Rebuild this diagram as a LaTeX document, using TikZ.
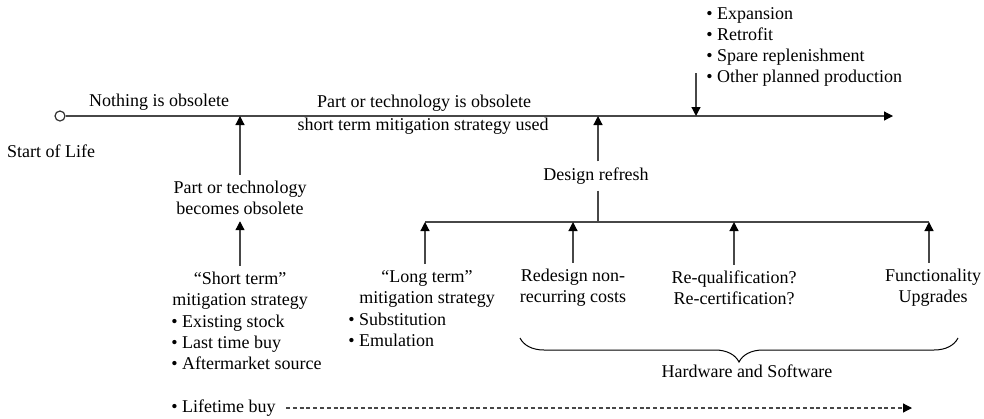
\documentclass[tikz,border=0pt]{standalone}
\usepackage{fontspec}
\setmainfont{Liberation Serif}
\usepackage{tikz}
\usetikzlibrary{arrows.meta, positioning, calc, decorations.pathreplacing}

\begin{document}
\begin{tikzpicture}[x=0.5pt, y=-0.5pt,
    lbl/.style={font=\fontsize{9}{10.5}\selectfont, inner sep=3pt, align=center},
    blist/.style={lbl, align=left, anchor=west, inner sep=0pt},
    link/.style={draw=black!72, line width=0.6pt},
    uparrow/.style={link, -{Triangle[length=4.5pt, width=4.5pt, color=black]}}]
  \useasboundingbox (0,0) rectangle (984,418);

  % Timeline
  \node[draw=black!80, circle, fill=white, minimum size=5pt, inner sep=0pt, line width=0.6pt] (start) at (60,116) {};
  \coordinate (tlEnd) at (893,116);
  \draw[uparrow] (start) -- (tlEnd);
  \node[lbl] (startLbl) at (51,151) {Start of Life};
  \node[lbl] (nothing) at (159,102) {Nothing is obsolete};
  \node[lbl] (isObs) at (424,103) {Part or technology is obsolete};
  \node[lbl] (stUsed) at (423,126) {short term mitigation strategy used};

  % Part becomes obsolete
  \coordinate (obsAt) at (240,116);
  \node[lbl] (becomes) at (240,198) {Part or technology\\becomes obsolete};
  \draw[uparrow] (becomes.north) -- (obsAt);
  \node[lbl] (shortHead) at (240,291) {``Short term''\\mitigation strategy};
  \draw[uparrow] (shortHead.north) -- (becomes.south);
  \node[blist] (shortList) at (171,342) {\textbullet{} Existing stock\\\textbullet{} Last time buy\\\textbullet{} Aftermarket source};

  % Lifetime buy
  \node[blist] (lifetime) at (171,408) {\textbullet{} Lifetime buy};
  \coordinate (lifeEnd) at (912,408);
  \draw[link, dash pattern=on 2pt off 1.4pt, -{Triangle[length=4.5pt, width=4.5pt, color=black]}] ([xshift=5pt]lifetime.east) -- (lifeEnd);

  % Planned production
  \coordinate (dnTop) at (696,73);
  \coordinate (dnAt) at (696,116);
  \draw[uparrow] (dnTop) -- (dnAt);
  \node[blist] (planned) at (706,47) {\textbullet{} Expansion\\\textbullet{} Retrofit\\\textbullet{} Spare replenishment\\\textbullet{} Other planned production};

  % Design refresh
  \coordinate (refreshAt) at (598,116);
  \node[lbl] (refresh) at (596,176) {Design refresh};
  \draw[uparrow] (refresh.north -| refreshAt) -- (refreshAt);
  \coordinate (barL) at (425,222);
  \coordinate (barR) at (929,222);
  \draw[link] (barL) -- (barR);
  \draw[link] (refresh.south -| refreshAt) -- (refreshAt |- barL);

  % Refresh drivers
  \node[lbl] (longHead) at (427,289) {``Long term''\\mitigation strategy};
  \draw[uparrow] (longHead.north -| barL) -- (barL);
  \node[blist] (longList) at (348,330) {\textbullet{} Substitution\\\textbullet{} Emulation};
  \node[lbl] (redesign) at (573,288) {Redesign non-\\recurring costs};
  \draw[uparrow] (redesign.north) -- (redesign.north |- barL);
  \node[lbl] (requal) at (734,288) {Re-qualification?\\Re-certification?};
  \draw[uparrow] (requal.north) -- (requal.north |- barL);
  \node[lbl] (upgrade) at (933,288) {Functionality\\Upgrades};
  \draw[uparrow] (upgrade.north -| barR) -- (barR);

  % Hardware and Software
  \coordinate (braceL) at (520,338);
  \coordinate (braceR) at (958,338);
  \draw[draw=black, line width=0.5pt, decorate, decoration={brace, mirror, amplitude=12pt}] (braceL) -- (braceR);
  \node[lbl] (hwsw) at (747,371) {Hardware and Software};
\end{tikzpicture}
\end{document}
